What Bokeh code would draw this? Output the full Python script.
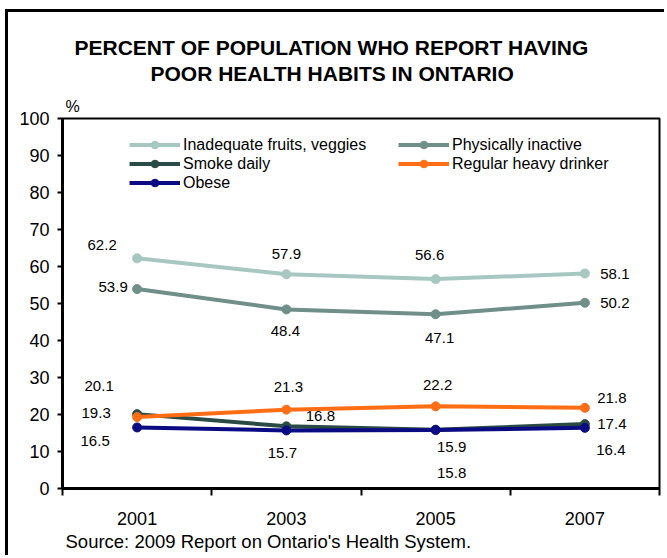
from bokeh.plotting import figure
from bokeh.models import Range1d, FixedTicker, Title, Legend, LegendItem
from bokeh.core.properties import value
from bokeh.embed import file_html
from bokeh.resources import INLINE

# ---------------- data ----------------
years = ["2001", "2003", "2005", "2007"]
fruits_veggies = [62.2, 57.9, 56.6, 58.1]
physically_inactive = [53.9, 48.4, 47.1, 50.2]
smoke_daily = [20.1, 16.8, 15.9, 17.4]
heavy_drinker = [19.3, 21.3, 22.2, 21.8]
obese = [16.5, 15.7, 15.8, 16.4]
y_ticks = [0, 10, 20, 30, 40, 50, 60, 70, 80, 90, 100]

series_names = ["Inadequate fruits, veggies", "Physically inactive", "Smoke daily",
                "Regular heavy drinker", "Obese"]
series_values = [fruits_veggies, physically_inactive, smoke_daily, heavy_drinker, obese]

title_line1 = "PERCENT OF POPULATION WHO REPORT HAVING"
title_line2 = "POOR HEALTH HABITS IN ONTARIO"
unit_text = "%"
source_text = "Source: 2009 Report on Ontario's Health System."

# ---------------- styles ----------------
FONT = "Liberation Sans"
colors = ["#A6C8C1", "#6F8F88", "#2A4A44", "#FF6E14", "#0A0A82"]
# pixel offsets of the value labels (dx, dy) for each point
label_dx = [[-35, 0, -6, 30], [-24, -1, 4, 30], [-38, 34, 16, 27], [-41, 2, 2, 27], [-42, -4, 16, 26]]
label_dy = [[-13, -20, -24, 0], [-2, 22, 24, 0], [-28, -10, 17, 0], [-4, -23, -21, -10], [14, 23, 43, 22]]

p = figure(width=659, height=546, output_backend="svg", toolbar_location=None,
           x_range=Range1d(0, len(years)), y_range=Range1d(0, 100),
           min_border_left=54, min_border_right=8, min_border_top=106, min_border_bottom=70)
p.styles = {"margin-left": "5px", "margin-top": "9px",
            "border-left": "3px solid black", "border-top": "3px solid black"}
p.title.text_font_size = "1px"
p.title.standoff = 0
p.background_fill_color = "white"
p.border_fill_color = "white"
p.xgrid.visible = False
p.ygrid.visible = False
p.outline_line_color = "black"
p.outline_line_width = 2

xs = [i + 0.5 for i in range(len(years))]

# x axis: labels at category centres, tick marks between categories
xa = p.xaxis[0]
xa.ticker = FixedTicker(ticks=xs, minor_ticks=list(range(len(years) + 1)))
xa.major_label_overrides = {x: y for x, y in zip(xs, years)}
xa.major_tick_out = 0
xa.major_tick_in = 0
xa.minor_tick_out = 7
xa.minor_tick_in = 0
xa.minor_tick_line_color = "black"
xa.minor_tick_line_width = 2
xa.axis_line_color = "black"
xa.axis_line_width = 3
xa.major_label_text_font = FONT
xa.major_label_text_font_size = "18px"
xa.major_label_text_color = "black"
xa.major_label_standoff = 16

ya = p.yaxis[0]
ya.ticker = FixedTicker(ticks=y_ticks)
ya.major_tick_out = 5
ya.major_tick_in = 0
ya.major_tick_line_color = "black"
ya.major_tick_line_width = 2
ya.minor_tick_line_color = None
ya.axis_line_color = "black"
ya.axis_line_width = 3
ya.major_label_text_font = FONT
ya.major_label_text_font_size = "18px"
ya.major_label_text_color = "black"
ya.major_label_standoff = 8

items = {}
for name, vals, col, dxs, dys in zip(series_names, series_values, colors, label_dx, label_dy):
    ln = p.line(xs, vals, line_color=col, line_width=4)
    sc = p.scatter(xs, vals, size=9, fill_color=col, line_color=col)
    items[name] = LegendItem(label=name, renderers=[ln, sc])
    p.text(x=xs, y=vals, text=[f"{v:.1f}" for v in vals], x_offset=dxs, y_offset=dys,
           text_align="center", text_baseline="middle", text_color="black",
           text_font=value(FONT), text_font_size="15px")

legend = Legend(items=[items[series_names[0]], items[series_names[2]], items[series_names[4]],
                       items[series_names[1]], items[series_names[3]]],
                location=(67, 296), orientation="vertical", nrows=3,
                glyph_width=51, glyph_height=19, label_height=19, label_width=215,
                label_standoff=3, spacing=0, padding=0, margin=0,
                border_line_color=None, background_fill_alpha=0,
                label_text_font=FONT, label_text_font_size="16px", label_text_color="black")
p.add_layout(legend)

# texts above the plot (first added = nearest to the plot area)
p.add_layout(Title(text=unit_text, align="left", offset=3, standoff=7.8,
                   text_font=FONT, text_font_size="16px", text_font_style="normal",
                   text_color="black"), "above")
p.add_layout(Title(text=title_line2, align="left", offset=88, standoff=13.6,
                   text_font=FONT, text_font_size="21px", text_font_style="bold",
                   text_color="black"), "above")
p.add_layout(Title(text=title_line1, align="left", offset=12, standoff=-12.6,
                   text_font=FONT, text_font_size="21px", text_font_style="bold",
                   text_color="black"), "above")
# source below the axis
p.add_layout(Title(text=source_text, align="left", offset=3, standoff=3.4,
                   text_font=FONT, text_font_size="18.5px", text_font_style="normal",
                   text_color="black"), "below")

open("out.html", "w").write(file_html(p, INLINE))
